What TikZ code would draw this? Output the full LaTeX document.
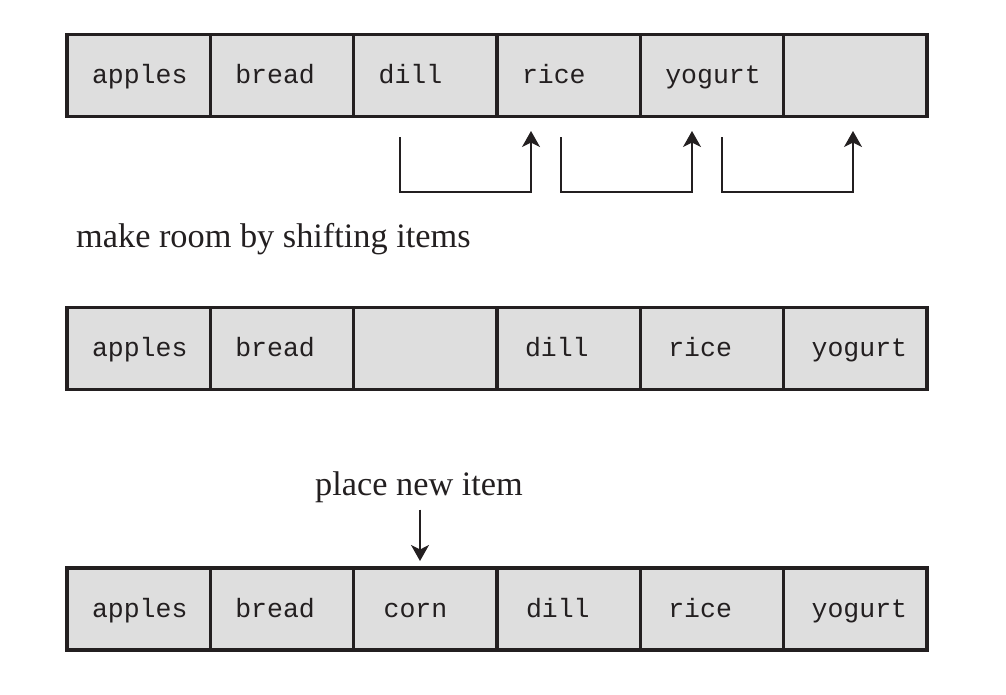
\documentclass[tikz,border=0pt]{standalone}
\usepackage{fontspec}
\setmainfont{Liberation Serif}
\setmonofont{Liberation Mono}
\usetikzlibrary{arrows.meta,calc}
\definecolor{cellfill}{HTML}{DEDEDE}
\definecolor{ink}{HTML}{231F20}
\tikzset{
  cell/.style={draw=ink, fill=cellfill, line width=3.3pt, rectangle,
    minimum width=143.33pt, minimum height=82pt, inner ysep=0pt,
    inner xsep=#1, text width=143.33pt-2*#1, align=left,
    text height=18pt, text depth=2pt,
    font=\fontsize{26.5}{28}\selectfont\ttfamily, text=ink},
  cell/.default=25pt,
  arr/.style={draw=ink, line width=1.4pt,
    -{Stealth[length=16pt,width=18pt,inset=4.5pt]}},
  lbl/.style={inner sep=0pt, font=\fontsize{34.3}{40}\selectfont, text=ink}
}
\begin{document}
\begin{tikzpicture}[x=1pt,y=-1pt]
\useasboundingbox (0,0) rectangle (1006,694);
% row 1
\node[cell] (a1) at (67+71.67,75.5) {apples};
\node[cell] (a2) at (67+71.67+143.33,75.5) {bread};
\node[cell] (a3) at (67+71.67+2*143.33,75.5) {dill};
\node[cell] (a4) at (67+71.67+3*143.33,75.5) {rice};
\node[cell] (a5) at (67+71.67+4*143.33,75.5) {yogurt};
\node[cell] (a6) at (67+71.67+5*143.33,75.5) {};
% shift arrows
\coordinate (s1) at (400,137);
\coordinate (t1) at (531,131);
\coordinate (s2) at (561,137);
\coordinate (t2) at (692,131);
\coordinate (s3) at (722,137);
\coordinate (t3) at (853,131);
\draw[arr] (s1) -- ++(0,55) -| (t1);
\draw[arr] (s2) -- ++(0,55) -| (t2);
\draw[arr] (s3) -- ++(0,55) -| (t3);
\node[lbl, anchor=base west] (m) at (76,247) {make room by shifting items};
% row 2
\node[cell] (b1) at (67+71.67,348.5) {apples};
\node[cell] (b2) at (67+71.67+143.33,348.5) {bread};
\node[cell=28pt] (b3) at (67+71.67+2*143.33,348.5) {};
\node[cell=28pt] (b4) at (67+71.67+3*143.33,348.5) {dill};
\node[cell=28pt] (b5) at (67+71.67+4*143.33,348.5) {rice};
\node[cell=28pt] (b6) at (67+71.67+5*143.33,348.5) {yogurt};
% label and arrow
\node[lbl, anchor=base] (p) at (419,495) {place new item};
\coordinate (pt) at (420,561);
\draw[arr] (p.south -| pt) ++(0,7) -- (pt);
% row 3
\node[cell] (c1) at (67+71.67,609) {apples};
\node[cell] (c2) at (67+71.67+143.33,609) {bread};
\node[cell=30pt] (c3) at (67+71.67+2*143.33,609) {corn};
\node[cell=29pt] (c4) at (67+71.67+3*143.33,609) {dill};
\node[cell=28pt] (c5) at (67+71.67+4*143.33,609) {rice};
\node[cell=28pt] (c6) at (67+71.67+5*143.33,609) {yogurt};
\end{tikzpicture}
\end{document}
